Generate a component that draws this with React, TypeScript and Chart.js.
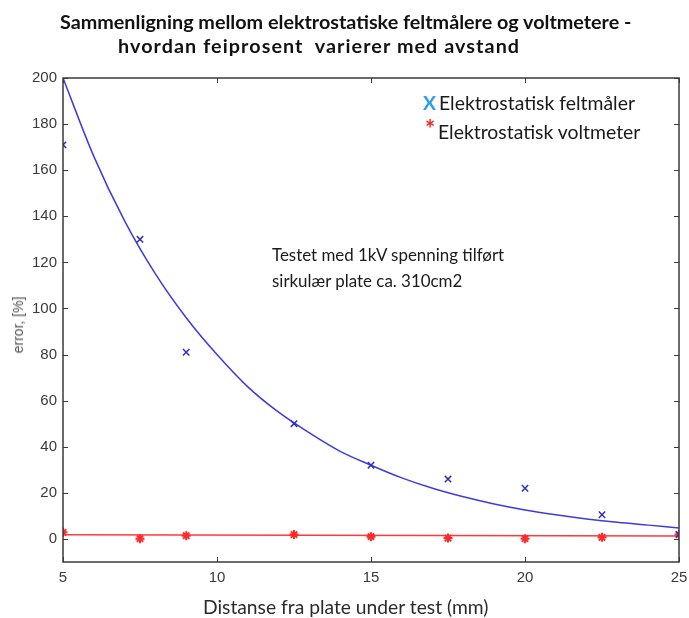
import React, { useEffect, useRef, useMemo } from "react";
import { Chart, registerables } from "chart.js";
Chart.register(...registerables);

// ---- data ----
const distances = [5, 7.5, 9, 12.5, 15, 17.5, 20, 22.5, 25];
const feltmalerError = [171, 130, 81, 50, 32, 26, 22, 10.5, 2];
const voltmeterError = [2.9, 0.1, 1.4, 1.9, 1.0, 0.4, 0.1, 0.7, 1.9];
const feltmalerFitX = [5, 6, 7, 8, 9, 10, 11, 12, 13, 14, 15, 16, 17, 18, 19, 20, 21, 22, 23, 24, 25];
const feltmalerFitY = [200, 166, 138, 115, 96, 80, 66, 55, 46, 38, 32, 26.5, 22, 18.3, 15.2, 12.6, 10.5, 8.7, 7.2, 6, 4.8];
const voltmeterFitX = [5, 25];
const voltmeterFitY = [1.8, 1.3];
const xTicks = [5, 10, 15, 20, 25];
const yTicks = [0, 20, 40, 60, 80, 100, 120, 140, 160, 180, 200];

const titleLines = [
  "Sammenligning mellom elektrostatiske feltmålere og voltmetere -",
  "hvordan feiprosent  varierer med avstand",
];
const legendLabels = ["Elektrostatisk feltmåler", "Elektrostatisk voltmeter"];
const noteLines = ["Testet med 1kV spenning tilført", "sirkulær plate ca. 310cm2"];
const xTitle = "Distanse fra plate under test (mm)";
const yTitle = "error, [%]";

const SANS = "Lato, 'Open Sans', sans-serif";

function measure(text: string, fs: number, weight: number, family: string) {
  const ctx = document.createElement("canvas").getContext("2d")!;
  ctx.font = `${weight} ${fs}px ${family}`;
  return ctx.measureText(text).width;
}
function fitSize(text: string, width: number, weight: number, family: string) {
  return (100 * width) / measure(text, 100, weight, family);
}

function Txt(props: {
  text: string; left: number; cy: number; fs: number; weight?: number; color?: string; family?: string; ls?: number;
}) {
  const { text, left, cy, fs, weight = 400, color = "#1a1a1a", family = SANS, ls = 0 } = props;
  return (
    <div
      style={{
        position: "absolute",
        left,
        top: cy - fs * 0.6,
        fontSize: fs,
        lineHeight: `${fs * 1.2}px`,
        fontFamily: family,
        fontWeight: weight,
        letterSpacing: ls,
        color,
        whiteSpace: "pre",
      }}
    >
      {text}
    </div>
  );
}

const framePlugin = {
  id: "frame",
  afterDraw(chart: any) {
    const { ctx, chartArea: a, scales } = chart;
    ctx.save();
    ctx.strokeStyle = "#3a3a3a";
    ctx.lineWidth = 1.5;
    ctx.strokeRect(a.left, a.top, a.right - a.left, a.bottom - a.top);
    ctx.lineWidth = 1;
    ctx.beginPath();
    for (const v of yTicks) {
      const y = Math.round(scales.y.getPixelForValue(v)) + 0.5;
      ctx.moveTo(a.left, y); ctx.lineTo(a.left + 5, y);
      ctx.moveTo(a.right, y); ctx.lineTo(a.right - 5, y);
    }
    for (const v of xTicks) {
      const x = Math.round(scales.x.getPixelForValue(v)) + 0.5;
      ctx.moveTo(x, a.bottom); ctx.lineTo(x, a.bottom - 5);
      ctx.moveTo(x, a.top); ctx.lineTo(x, a.top + 5);
    }
    ctx.stroke();
    ctx.restore();
  },
};

export default function App() {
  const ref = useRef<HTMLCanvasElement>(null);
  const sizes = useMemo(() => {
    const title = fitSize(titleLines[0], 572, 700, SANS);
    const t2w = measure(titleLines[1], title, 700, SANS);
    return {
      title,
      title2ls: (403 - t2w) / titleLines[1].length,
      legend: fitSize(legendLabels[0], 196, 400, SANS),
      note: fitSize(noteLines[0], 233, 400, SANS),
      xTitle: fitSize(xTitle, 286, 400, SANS),
    };
  }, []);
  useEffect(() => {
    document.body.style.margin = "0";
    const chart = new Chart(ref.current!, {
      type: "scatter",
      data: {
        datasets: [
          {
            label: legendLabels[0],
            data: distances.map((x, i) => ({ x, y: feltmalerError[i] })),
            pointStyle: "crossRot",
            pointRadius: 4.5,
            borderColor: "#2f2fc4",
            backgroundColor: "#2f2fc4",
            pointBorderWidth: 1.5,
            showLine: false,
            order: 0,
          },
          {
            label: legendLabels[1],
            data: distances.map((x, i) => ({ x, y: voltmeterError[i] })),
            pointStyle: "star",
            pointRadius: 4.5,
            borderColor: "#ff2a2a",
            backgroundColor: "#ff2a2a",
            pointBorderWidth: 2,
            showLine: false,
            order: 0,
          },
          {
            label: "fit1",
            data: feltmalerFitX.map((x, i) => ({ x, y: feltmalerFitY[i] })),
            showLine: true,
            pointRadius: 0,
            borderColor: "#3c3cd8",
            borderWidth: 1.5,
            cubicInterpolationMode: "monotone",
            order: 1,
          },
          {
            label: "fit2",
            data: voltmeterFitX.map((x, i) => ({ x, y: voltmeterFitY[i] })),
            showLine: true,
            pointRadius: 0,
            borderColor: "#ff3a3a",
            borderWidth: 1.5,
            order: 1,
          },
        ],
      },
      options: {
        animation: false,
        responsive: false,
        maintainAspectRatio: false,
        layout: { padding: { top: 78, right: 10, left: 0, bottom: 0 } },
        plugins: { legend: { display: false }, title: { display: false }, tooltip: { enabled: false } },
        scales: {
          x: {
            type: "linear",
            min: 5,
            max: 25,
            afterBuildTicks: (s: any) => { s.ticks = xTicks.map((v) => ({ value: v })); },
            afterFit: (s: any) => { s.height = 56; s.paddingLeft = 0; s.paddingRight = 0; },
            grid: { display: false, drawTicks: false },
            border: { display: false },
            ticks: { padding: 7, color: "#3a3a3a", font: { family: "Arial, 'Liberation Sans'", size: 15 }, maxRotation: 0 },
          },
          y: {
            type: "linear",
            min: -10,
            max: 200,
            afterBuildTicks: (s: any) => { s.ticks = yTicks.map((v) => ({ value: v })); },
            afterFit: (s: any) => { s.width = 63; s.paddingTop = 0; s.paddingBottom = 0; },
            grid: { display: false, drawTicks: false },
            border: { display: false },
            ticks: { padding: 6, color: "#3a3a3a", font: { family: "Arial, 'Liberation Sans'", size: 15 } },
          },
        },
      },
      plugins: [framePlugin],
    } as any);
    return () => chart.destroy();
  }, []);

  return (
    <div style={{ position: "relative", width: 689, height: 618, background: "#fff", overflow: "hidden" }}>
      <canvas ref={ref} width={689} height={618} style={{ position: "absolute", left: 0, top: 0 }} />
      <Txt text={titleLines[0]} left={60} cy={22} fs={sizes.title} weight={700} color="#111" />
      <Txt text={titleLines[1]} left={118} cy={46} fs={sizes.title} weight={700} color="#111" ls={sizes.title2ls} />
      <Txt text="X" left={423} cy={103} fs={sizes.legend} weight={700} color="#2aa0e8" />
      <Txt text={legendLabels[0]} left={439} cy={103} fs={sizes.legend} color="#1a1a1a" />
      <Txt text="*" left={425} cy={129} fs={24} weight={700} color="#ff2020" />
      <Txt text={legendLabels[1]} left={438} cy={132} fs={sizes.legend} color="#1a1a1a" />
      <Txt text={noteLines[0]} left={272} cy={255} fs={sizes.note} color="#1a1a1a" />
      <Txt text={noteLines[1]} left={272} cy={281} fs={sizes.note} color="#1a1a1a" />
      <Txt text={xTitle} left={203} cy={607} fs={sizes.xTitle} color="#2a2a2a" />
      <div
        style={{
          position: "absolute",
          left: 18,
          top: 325,
          transform: "translate(-50%, -50%) rotate(-90deg)",
          fontFamily: "Arial, 'Liberation Sans'",
          fontSize: 14,
          color: "#555",
          whiteSpace: "nowrap",
        }}
      >
        {yTitle}
      </div>
    </div>
  );
}
